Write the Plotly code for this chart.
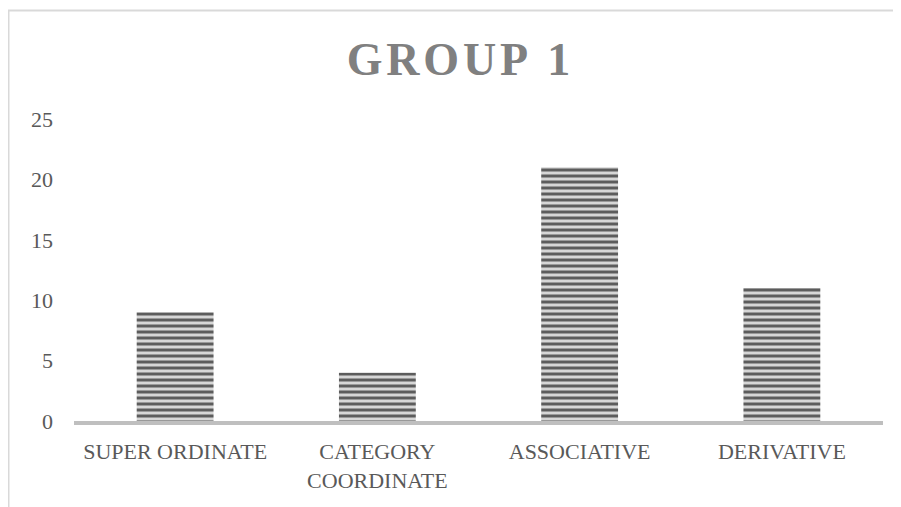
import plotly.graph_objects as go

categories = ["SUPER ORDINATE", "CATEGORY<br>COORDINATE", "ASSOCIATIVE", "DERIVATIVE"]
values = [9, 4, 21, 11]
y_ticks = [0, 5, 10, 15, 20, 25]
title_text = "G\u200aR\u200aO\u200aU\u200aP\u200a \u200a1"

FONT = "Liberation Serif"
# page has an 8px body margin, so the figure is sized/offset to compensate
W, H = 893, 499
L, R, T, B = 66, 18, 111, 86
pw, ph = W - L - R, H - T - B

fig = go.Figure(go.Bar(
    x=categories, y=values,
    marker=dict(
        color="#d6d6d6",
        line=dict(width=0),
        pattern=dict(shape="-", size=6, solidity=0.5,
                     fgcolor="#5c5c5c", bgcolor="#d6d6d6", fillmode="replace"),
    ),
    hoverinfo="x+y",
))

# chart frame (extends beyond the right/bottom edge as in the reference)
fig.add_shape(type="rect", xref="paper", yref="paper",
              x0=(0.5 - L) / pw, x1=(W + 10 - L) / pw,
              y0=(H - B - (H + 10)) / ph, y1=(H - B - 2.5) / ph,
              line=dict(color="#d9d9d9", width=2), fillcolor="rgba(0,0,0,0)", layer="below")

fig.update_layout(
    width=W, height=H,
    margin=dict(l=L, r=R, t=T, b=B, pad=0),
    paper_bgcolor="white", plot_bgcolor="white",
    bargap=0.62,
    showlegend=False,
    title=dict(text=title_text, x=0.5 + 4 / W, xanchor="center", xref="container",
               y=1 - 51 / H, yanchor="middle", yref="container",
               font=dict(family=FONT, size=46, color="#808080", weight="bold")),
    font=dict(family=FONT, size=22, color="#595959"),
    xaxis=dict(showline=True, linecolor="#bfbfbf", linewidth=4, ticks="",
               showgrid=False, zeroline=False, tickfont=dict(size=22, color="#595959"),
               ticklabelstandoff=8),
    yaxis=dict(range=[0, 25], tickvals=y_ticks, showgrid=False, zeroline=False,
               showline=False, ticks="", tickfont=dict(size=22, color="#595959"),
               ticklabelstandoff=20),
)

fig.write_html("out.html")
